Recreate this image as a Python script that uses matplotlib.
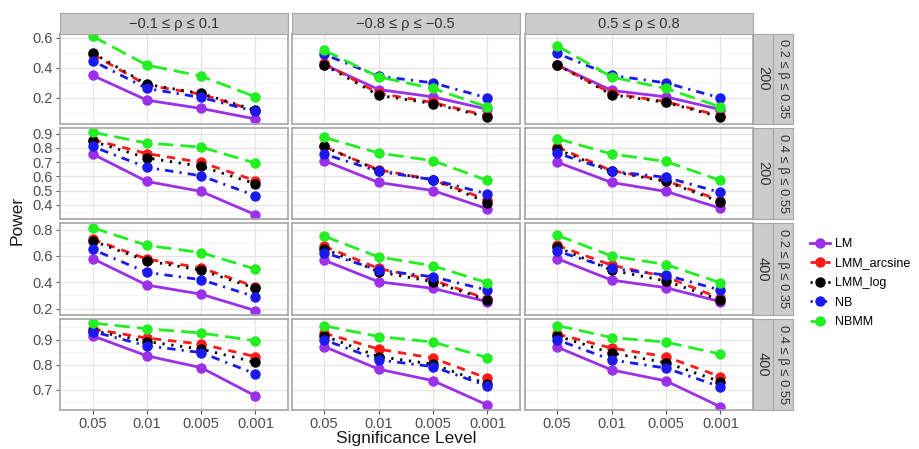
import matplotlib
matplotlib.use("Agg")
import matplotlib.pyplot as plt
from matplotlib.lines import Line2D
import numpy as np

plt.rcParams["font.family"] = ["Liberation Sans", "DejaVu Sans"]

levels = ["0.05", "0.01", "0.005", "0.001"]
col_labels = ["\u22120.1 \u2264 \u03c1 \u2264 0.1", "\u22120.8 \u2264 \u03c1 \u2264 \u22120.5", "0.5 \u2264 \u03c1 \u2264 0.8"]
row_beta = ["0.2 \u2264 \u03b2 \u2264 0.35", "0.4 \u2264 \u03b2 \u2264 0.55", "0.2 \u2264 \u03b2 \u2264 0.35", "0.4 \u2264 \u03b2 \u2264 0.55"]
row_n = ["200", "200", "400", "400"]
methods = ["LM", "LMM_arcsine", "LMM_log", "NB", "NBMM"]

# power[row][col] -> values at each significance level
LM = [
    [[0.35, 0.185, 0.13, 0.06], [0.422, 0.256, 0.207, 0.125], [0.418, 0.25, 0.207, 0.123]],
    [[0.757, 0.564, 0.494, 0.33], [0.71, 0.557, 0.50, 0.372], [0.70, 0.557, 0.494, 0.376]],
    [[0.58, 0.379, 0.31, 0.185], [0.568, 0.404, 0.354, 0.253], [0.58, 0.417, 0.359, 0.253]],
    [[0.916, 0.836, 0.789, 0.676], [0.873, 0.783, 0.737, 0.64], [0.871, 0.78, 0.736, 0.633]],
]
LMM_arcsine = [
    [[0.49, 0.285, 0.225, 0.115], [0.43, 0.23, 0.17, 0.08], [0.42, 0.23, 0.175, 0.08]],
    [[0.858, 0.76, 0.698, 0.57], [0.81, 0.646, 0.576, 0.435], [0.806, 0.64, 0.57, 0.43]],
    [[0.727, 0.576, 0.51, 0.366], [0.674, 0.505, 0.417, 0.273], [0.68, 0.53, 0.442, 0.278]],
    [[0.943, 0.907, 0.883, 0.833], [0.927, 0.863, 0.827, 0.747], [0.923, 0.867, 0.833, 0.753]],
]
LMM_log = [
    [[0.50, 0.29, 0.23, 0.118], [0.42, 0.218, 0.162, 0.073], [0.42, 0.222, 0.17, 0.073]],
    [[0.846, 0.73, 0.67, 0.548], [0.81, 0.64, 0.576, 0.416], [0.79, 0.635, 0.564, 0.42]],
    [[0.714, 0.563, 0.492, 0.354], [0.656, 0.48, 0.404, 0.265], [0.667, 0.492, 0.41, 0.265]],
    [[0.937, 0.893, 0.863, 0.81], [0.916, 0.833, 0.803, 0.723], [0.916, 0.847, 0.809, 0.733]],
]
NB = [
    [[0.447, 0.263, 0.203, 0.11], [0.49, 0.345, 0.30, 0.20], [0.496, 0.35, 0.30, 0.20]],
    [[0.81, 0.663, 0.604, 0.463], [0.757, 0.635, 0.576, 0.477], [0.764, 0.635, 0.593, 0.487]],
    [[0.65, 0.475, 0.42, 0.29], [0.626, 0.492, 0.442, 0.341], [0.637, 0.505, 0.455, 0.341]],
    [[0.933, 0.876, 0.849, 0.764], [0.90, 0.82, 0.793, 0.716], [0.90, 0.82, 0.787, 0.713]],
]
NBMM = [
    [[0.61, 0.418, 0.345, 0.207], [0.518, 0.34, 0.263, 0.14], [0.547, 0.34, 0.263, 0.14]],
    [[0.91, 0.834, 0.806, 0.693], [0.874, 0.764, 0.71, 0.571], [0.865, 0.757, 0.705, 0.571]],
    [[0.815, 0.68, 0.626, 0.50], [0.75, 0.593, 0.525, 0.397], [0.757, 0.60, 0.535, 0.397]],
    [[0.967, 0.944, 0.927, 0.896], [0.956, 0.913, 0.891, 0.829], [0.957, 0.909, 0.891, 0.843]],
]
series = [LM, LMM_arcsine, LMM_log, NB, NBMM]

colors = ["#9B30E8", "#FF1A1A", "#000000", "#1A1AEE", "#22EE22"]
dashes = [None, (3, 2.5), (0.8, 2.4), (0.8, 2.2, 3, 2.2), (5.5, 2.5)]

# per-row y scale (free y)
row_ylim = [(0.03, 0.625), (0.30, 0.94), (0.152, 0.85), (0.62, 0.983)]
row_major = [[0.2, 0.4, 0.6], [0.4, 0.5, 0.6, 0.7, 0.8, 0.9], [0.2, 0.4, 0.6, 0.8], [0.7, 0.8, 0.9]]
row_minor = [[0.1, 0.3, 0.5], [0.35, 0.45, 0.55, 0.65, 0.75, 0.85], [0.3, 0.5, 0.7], [0.65, 0.75, 0.85, 0.95]]

W, H = 919, 449
fig = plt.figure(figsize=(W / 100, H / 100), dpi=100)

col_x = [(60, 288), (291.5, 520), (524.5, 753)]
row_y = [(34, 123.5), (128, 219), (223, 315), (319, 410)]
border = "#A6A6A6"
strip_fill = "#CCCCCC"

x = np.arange(len(levels))
for r in range(4):
    for c in range(3):
        x0, x1 = col_x[c]
        y0, y1 = row_y[r]
        ax = fig.add_axes([x0 / W, 1 - y1 / H, (x1 - x0) / W, (y1 - y0) / H])
        ax.set_xlim(-0.6, 3.6)
        ax.set_ylim(*row_ylim[r])
        ax.set_yticks(row_major[r])
        ax.set_yticks(row_minor[r], minor=True)
        ax.set_xticks(x)
        ax.grid(True, which="major", color="#E5E5E5", lw=0.9)
        ax.grid(True, which="minor", axis="y", color="#F4F4F4", lw=0.6)
        ax.set_axisbelow(True)
        for s in ax.spines.values():
            s.set_color(border)
            s.set_linewidth(1.2)
        ax.tick_params(which="minor", length=0)
        ax.tick_params(which="major", length=3, color="#555555", width=0.8,
                       labelsize=10.5, labelcolor="#4D4D4D", pad=2)
        if c == 0:
            ax.set_yticklabels([f"{v:.1f}" for v in row_major[r]])
        else:
            ax.tick_params(axis="y", length=0, labelleft=False)
        if r == 3:
            ax.set_xticklabels(levels)
        else:
            ax.tick_params(axis="x", length=0, labelbottom=False)

        for k, m in enumerate(methods):
            ln, = ax.plot(x, series[k][r][c], color=colors[k], lw=2.0,
                          marker="o", ms=6.5, solid_capstyle="butt",
                          dash_capstyle="butt")
            if dashes[k] is not None:
                ln.set_dashes(dashes[k])

        # top strip
        if r == 0:
            sax = fig.add_axes([x0 / W, 1 - 33.5 / H, (x1 - x0) / W, 21 / H])
            sax.set_facecolor(strip_fill)
            sax.set_xticks([]); sax.set_yticks([])
            for s in sax.spines.values():
                s.set_color(border)
            sax.text(0.5, 0.45, col_labels[c], ha="center", va="center",
                     fontsize=10.5, color="#333333", transform=sax.transAxes)
        # right strips
        if c == 2:
            for (sx0, sx1, txt, fs) in [(753, 773, row_n[r], 10.5), (773, 793, row_beta[r], 9.3)]:
                sax = fig.add_axes([sx0 / W, 1 - y1 / H, (sx1 - sx0) / W, (y1 - y0) / H])
                sax.set_facecolor(strip_fill)
                sax.set_xticks([]); sax.set_yticks([])
                for s in sax.spines.values():
                    s.set_color(border)
                sax.text(0.5, 0.5, txt, ha="center", va="center", rotation=-90,
                         fontsize=fs, color="#333333", transform=sax.transAxes)

fig.text(17 / W, 1 - 220 / H, "Power", rotation=90, ha="center", va="center",
         fontsize=12.5, color="#1A1A1A")
fig.text(406 / W, 1 - 439 / H, "Significance Level", ha="center", va="center",
         fontsize=12.5, color="#1A1A1A")

handles = []
for k, m in enumerate(methods):
    h = Line2D([0], [0], color=colors[k], lw=2.0, marker="o", ms=6.5)
    if dashes[k] is not None:
        h.set_dashes(dashes[k])
    handles.append(h)
fig.legend(handles, methods, loc="center left",
           bbox_to_anchor=(805 / W, 1 - 283 / H), frameon=False,
           fontsize=9, handlelength=1.6, handletextpad=0.4,
           labelspacing=0.6, borderaxespad=0)

fig.savefig("out.png", dpi=100)
